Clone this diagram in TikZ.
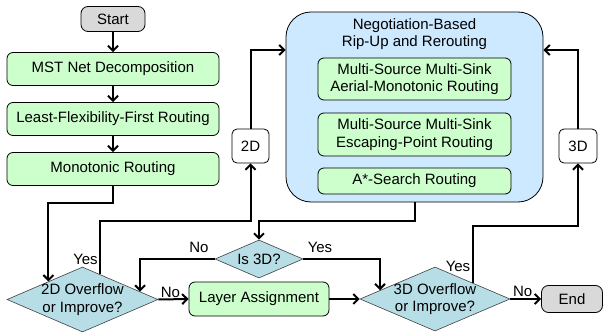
\documentclass[tikz,border=0pt]{standalone}
\usepackage{fontspec}
\setmainfont{Liberation Sans}
\usepackage{xcolor}
\usepackage{tikz}
\usetikzlibrary{shapes.geometric,arrows.meta,calc}

\definecolor{stagegreen}{HTML}{CCFFCC}
\definecolor{rrrblue}{HTML}{CCE9FF}
\definecolor{testcyan}{HTML}{B7DEE6}
\definecolor{termgray}{HTML}{D9D9D9}

\begin{document}
\begin{tikzpicture}[x=1pt,y=1pt,font=\fontsize{15}{17.5}\selectfont,node distance=50pt,
  stage/.style={rectangle,rounded corners=6pt,draw,line width=0.8pt,fill=stagegreen,minimum width=212pt,minimum height=33pt,align=center},
  term/.style={rectangle,rounded corners=7pt,draw,line width=0.8pt,fill=termgray,minimum width=64pt,minimum height=25pt},
  test/.style={diamond,draw=black!75,line width=0.6pt,fill=testcyan,aspect=2.3,inner sep=-2pt,align=center},
  tag/.style={rectangle,rounded corners=5pt,draw,line width=0.8pt,fill=white,minimum width=37pt,minimum height=34pt},
  flow/.style={line width=2pt,-{Straight Barb[length=5pt,width=10pt]}}]
\useasboundingbox (0,0) rectangle (603,333);

\node [term] (start) at (113,314) {Start};
\node [stage,below of=start] (mst) {MST Net Decomposition};
\node [stage,below of=mst] (lff) {Least-Flexibility-First Routing};
\node [stage,below of=lff] (mono) {Monotonic Routing};

\node [rectangle,rounded corners=25pt,draw,line width=0.8pt,fill=rrrblue,minimum width=257pt,minimum height=190pt] (nego) at (414.5,226) {};
\node [align=center] (negotitle) at (414.5,299) {Negotiation-Based\\Rip-Up and Rerouting};
\node [stage,minimum width=193pt,minimum height=42pt] (aerial) at (414.5,254) {Multi-Source Multi-Sink\\Aerial-Monotonic Routing};
\node [stage,minimum width=193pt,minimum height=43pt] (escape) at (414.5,198.5) {Multi-Source Multi-Sink\\Escaping-Point Routing};
\node [stage,minimum width=193pt,minimum height=26pt] (astar) at (414.5,152) {A*-Search Routing};

\node [tag] (go2d) at (250.5,187) {2D};
\node [tag,minimum width=38pt] (go3d) at (578,187) {3D};

\node [test,minimum width=151pt,minimum height=65pt] (ovf2d) at (82.5,33.5) {2D Overflow\\or Improve?};
\node [stage,minimum width=140pt,minimum height=34pt] (layer) at (259,34) {Layer Assignment};
\node [test,minimum width=88pt,minimum height=38pt,above of=layer,node distance=40pt] (is3d) {Is 3D?};
\node [test,minimum width=150pt,minimum height=64pt] (ovf3d) at (435,34) {3D Overflow\\or Improve?};
\node [term,minimum width=61pt,minimum height=27pt] (end) at (572,34) {End};

\node (yes2d) at (85.5,74) {Yes};
\node (no3d) at (199,86) {No};
\node (yes3d) at (320,86) {Yes};
\node (yesovf) at (458,67) {Yes};

\coordinate (monoin) at ($(ovf2d.north)!0.45!(ovf2d.west)$);
\coordinate (yesout2d) at ($(ovf2d.north)!0.23!(ovf2d.east)$);
\coordinate (noin2d) at ($(ovf2d.north)!0.76!(ovf2d.east)$);
\coordinate (yesin3d) at ($(ovf3d.north)!0.73!(ovf3d.west)$);

\draw [flow] (start) -- (mst);
\draw [flow] (mst) -- (lff);
\draw [flow] (lff) -- (mono);
\draw [flow] (mono.south) -- ++(0,-17.5) -| (monoin);
\draw [flow] (yesout2d) |- ([yshift=-58pt]go2d.south) -- (go2d.south);
\draw [flow] (go2d.north) |- ([yshift=57pt]nego.west);
\draw [flow] (nego.south) |- ([yshift=19pt]is3d.north) -- (is3d.north);
\draw [flow] (is3d.west) -| (noin2d);
\draw [flow] (is3d.east) -| (yesin3d);
\draw [flow] (ovf2d.east) -- node[above,inner sep=1pt,xshift=-3pt] (no2d) {No} (layer.west);
\draw [flow] (layer.east) -- (ovf3d.west);
\draw [flow] (ovf3d.east) -- node[above,inner sep=1pt,xshift=-3pt] (noovf) {No} (end.west);
\draw [flow] (ovf3d.north east) |- ([yshift=-63pt]go3d.south) -- (go3d.south);
\draw [flow] (go3d.north) |- ([yshift=57pt]nego.east);
\end{tikzpicture}
\end{document}
